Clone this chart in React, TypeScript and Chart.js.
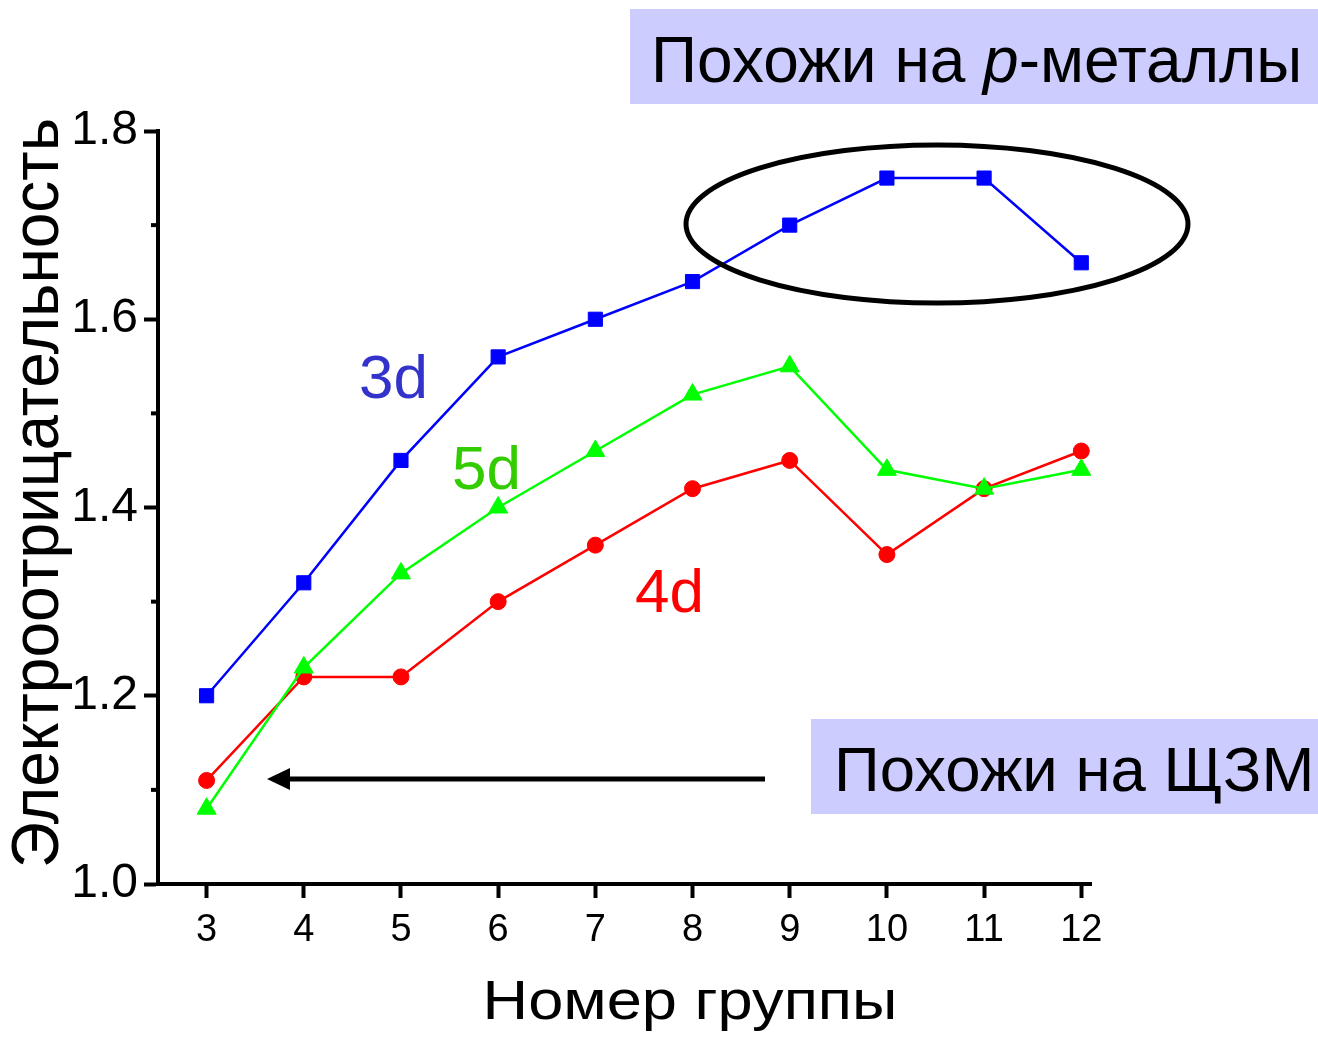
import { useEffect, useRef } from "react";
import { Chart, registerables } from "chart.js";

Chart.register(...registerables);

const groups = [3, 4, 5, 6, 7, 8, 9, 10, 11, 12];
const en3d = [1.2, 1.32, 1.45, 1.56, 1.6, 1.64, 1.7, 1.75, 1.75, 1.66];
const en5d = [1.08, 1.23, 1.33, 1.4, 1.46, 1.52, 1.55, 1.44, 1.42, 1.44];
const en4d = [1.11, 1.22, 1.22, 1.3, 1.36, 1.42, 1.45, 1.35, 1.42, 1.46];
const yTicks = [1.0, 1.1, 1.2, 1.3, 1.4, 1.5, 1.6, 1.7, 1.8];
const yTickLabels = ["1.0", "", "1.2", "", "1.4", "", "1.6", "", "1.8"];
const xTickLabels = ["3", "4", "5", "6", "7", "8", "9", "10", "11", "12"];

const yTitle = "Электроотрицательность";
const xTitle = "Номер группы";
const seriesLabels = ["3d", "5d", "4d"];
const boxTop = ["Похожи на ", "p", "-металлы"];
const boxBottom = "Похожи на ЩЗМ";

const FONT = "'Liberation Sans', Arial, sans-serif";

function fitText(ctx: CanvasRenderingContext2D, text: string, cx: number, y: number, targetW: number) {
  const w = ctx.measureText(text).width;
  ctx.save();
  ctx.translate(cx, y);
  ctx.scale(targetW / w, 1);
  ctx.textAlign = "center";
  ctx.fillText(text, 0, 0);
  ctx.restore();
}

const annotations = {
  id: "annotations",
  afterDraw(chart: any) {
    const ctx = chart.ctx as CanvasRenderingContext2D;
    const area = chart.chartArea;
    const yScale = chart.scales.y;
    ctx.save();
    // minor y ticks
    ctx.strokeStyle = "#000";
    ctx.lineWidth = 4;
    yTicks.forEach((v, i) => {
      if (yTickLabels[i] !== "") return;
      const py = yScale.getPixelForValue(v);
      ctx.beginPath();
      ctx.moveTo(area.left - 7, py);
      ctx.lineTo(area.left, py);
      ctx.stroke();
    });

    // axis titles
    ctx.fillStyle = "#000";
    ctx.textBaseline = "alphabetic";
    ctx.font = `56px ${FONT}`;
    fitText(ctx, xTitle, 690, 1019, 415);

    ctx.save();
    ctx.translate(58, 493);
    ctx.rotate(-Math.PI / 2);
    ctx.font = `66px ${FONT}`;
    fitText(ctx, yTitle, 0, 0, 750);
    ctx.restore();

    // series labels
    ctx.textAlign = "left";
    ctx.font = `62px ${FONT}`;
    ctx.fillStyle = "#3333CC";
    ctx.fillText(seriesLabels[0], 359, 398);
    ctx.fillStyle = "#33CC00";
    ctx.fillText(seriesLabels[1], 452, 489);
    ctx.fillStyle = "#FF0000";
    ctx.fillText(seriesLabels[2], 635, 612);

    // boxes
    ctx.fillStyle = "#CCCCFF";
    ctx.fillRect(630, 9, 688, 95);
    ctx.fillRect(811, 719, 507, 95);
    ctx.fillStyle = "#000";
    ctx.font = `64px ${FONT}`;
    let x = 651;
    ctx.fillText(boxTop[0], x, 82);
    x += ctx.measureText(boxTop[0]).width;
    ctx.font = `italic 64px ${FONT}`;
    ctx.fillText(boxTop[1], x, 82);
    x += ctx.measureText(boxTop[1]).width;
    ctx.font = `64px ${FONT}`;
    ctx.fillText(boxTop[2], x, 82);
    ctx.font = `63.5px ${FONT}`;
    ctx.fillText(boxBottom, 834, 791);

    // ellipse
    ctx.strokeStyle = "#000";
    ctx.lineWidth = 5;
    ctx.beginPath();
    ctx.ellipse(937, 224, 251, 79, 0, 0, Math.PI * 2);
    ctx.stroke();

    // arrow
    ctx.lineWidth = 5;
    ctx.beginPath();
    ctx.moveTo(765, 779);
    ctx.lineTo(285, 779);
    ctx.stroke();
    ctx.fillStyle = "#000";
    ctx.beginPath();
    ctx.moveTo(267, 779);
    ctx.lineTo(290, 768);
    ctx.lineTo(290, 790);
    ctx.closePath();
    ctx.fill();
    ctx.restore();
  },
};

export default function App() {
  const ref = useRef<HTMLCanvasElement>(null);
  useEffect(() => {
    if (!ref.current) return;
    const mk = (vals: number[]) => groups.map((g, i) => ({ x: g, y: vals[i] }));
    const chart = new Chart(ref.current, {
      type: "line",
      data: {
        datasets: [
          {
            label: "3d",
            data: mk(en3d),
            borderColor: "#0000FF",
            backgroundColor: "#0000FF",
            borderWidth: 2.5,
            pointStyle: "rect",
            pointRadius: 10,
            pointBorderWidth: 1,
          },
          {
            label: "5d",
            data: mk(en5d),
            borderColor: "#00FF00",
            backgroundColor: "#00FF00",
            borderWidth: 2.5,
            pointStyle: "triangle",
            pointRadius: 11,
            pointBorderWidth: 1,
          },
          {
            label: "4d",
            data: mk(en4d),
            borderColor: "#FF0000",
            backgroundColor: "#FF0000",
            borderWidth: 2.5,
            pointStyle: "circle",
            pointRadius: 8,
            pointBorderWidth: 1,
          },
        ],
      },
      options: {
        animation: false,
        responsive: false,
        devicePixelRatio: 1,
        layout: { padding: { left: 0, top: 131, right: 227, bottom: 0 } },
        plugins: { legend: { display: false }, tooltip: { enabled: false } },
        scales: {
          x: {
            type: "linear",
            min: 2.5,
            max: 12.1,
            afterFit: (s: any) => {
              s.height = 154;
            },
            afterBuildTicks: (s: any) => {
              s.ticks = groups.map((g) => ({ value: g }));
            },
            border: { display: true, width: 4, color: "#000" },
            grid: {
              display: true,
              drawOnChartArea: false,
              drawTicks: true,
              tickLength: 14,
              tickWidth: 4,
              tickColor: "#000",
            },
            ticks: {
              color: "#000",
              font: { family: FONT, size: 38 },
              padding: 10,
              maxRotation: 0,
              autoSkip: false,
              callback: (_v: any, i: number) => xTickLabels[i],
            },
          },
          y: {
            type: "linear",
            min: 1.0,
            max: 1.8,
            afterFit: (s: any) => {
              s.width = 158;
            },
            afterBuildTicks: (s: any) => {
              s.ticks = yTicks.map((v) => ({ value: v }));
            },
            border: { display: true, width: 4, color: "#000" },
            grid: {
              display: true,
              drawOnChartArea: false,
              drawTicks: true,
              tickLength: 14,
              tickWidth: 4,
              tickColor: (c: any) => (yTickLabels[c.index] ? "#000" : "rgba(0,0,0,0)"),
            },
            ticks: {
              color: "#000",
              font: { family: FONT, size: 48 },
              padding: 6,
              autoSkip: false,
              callback: (_v: any, i: number) => yTickLabels[i],
            },
          },
        },
      },
      plugins: [annotations],
    });
    return () => chart.destroy();
  }, []);
  return (
    <div style={{ position: "absolute", left: 0, top: 0, width: 1318, height: 1038 }}>
      <canvas ref={ref} width={1318} height={1038} />
    </div>
  );
}
